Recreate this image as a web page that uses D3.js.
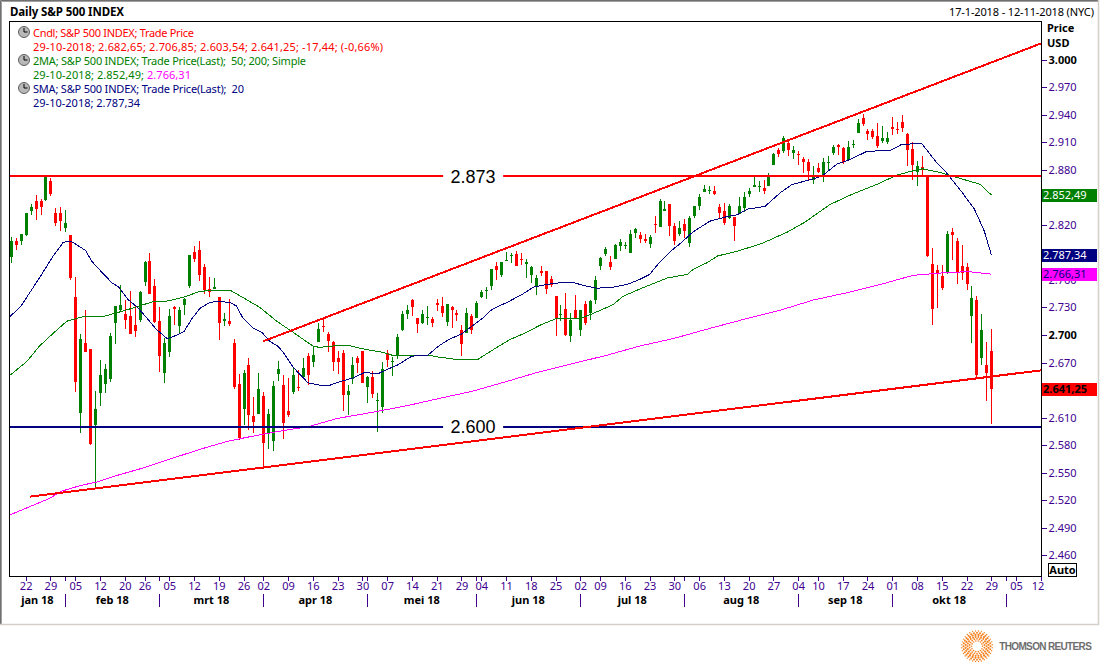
<!DOCTYPE html>
<html><head><meta charset="utf-8">
<style>
html,body{margin:0;padding:0;background:#fff}
svg{display:block}
text{font-family:"Noto Sans",sans-serif;font-size:11px}
</style>
<script src="https://cdn.jsdelivr.net/npm/d3@7/dist/d3.min.js"></script>
</head><body><svg id="c" width="1100" height="665"></svg>
<script>
const dates = ["01-17","01-18","01-19","01-22","01-23","01-24","01-25","01-26","01-29","01-30","01-31","02-01","02-02",
"02-05","02-06","02-07","02-08","02-09","02-12","02-13","02-14","02-15","02-16","02-20","02-21","02-22","02-23","02-26","02-27","02-28","03-01","03-02",
"03-05","03-06","03-07","03-08","03-09","03-12","03-13","03-14","03-15","03-16","03-19","03-20","03-21","03-22","03-23","03-26","03-27","03-28","03-29",
"04-02","04-03","04-04","04-05","04-06","04-09","04-10","04-11","04-12","04-13","04-16","04-17","04-18","04-19","04-20","04-23","04-24","04-25","04-26","04-27","04-30",
"05-01","05-02","05-03","05-04","05-07","05-08","05-09","05-10","05-11","05-14","05-15","05-16","05-17","05-18","05-21","05-22","05-23","05-24","05-25","05-29","05-30","05-31",
"06-01","06-04","06-05","06-06","06-07","06-08","06-11","06-12","06-13","06-14","06-15","06-18","06-19","06-20","06-21","06-22","06-25","06-26","06-27","06-28","06-29",
"07-02","07-03","07-05","07-06","07-09","07-10","07-11","07-12","07-13","07-16","07-17","07-18","07-19","07-20","07-23","07-24","07-25","07-26","07-27","07-30","07-31",
"08-01","08-02","08-03","08-06","08-07","08-08","08-09","08-10","08-13","08-14","08-15","08-16","08-17","08-20","08-21","08-22","08-23","08-24","08-27","08-28","08-29","08-30","08-31",
"09-04","09-05","09-06","09-07","09-10","09-11","09-12","09-13","09-14","09-17","09-18","09-19","09-20","09-21","09-24","09-25","09-26","09-27","09-28",
"10-01","10-02","10-03","10-04","10-05","10-08","10-09","10-10","10-11","10-12","10-15","10-16","10-17","10-18","10-19","10-22","10-23","10-24","10-25","10-26","10-29",
"10-30","10-31","11-01","11-02","11-05","11-06","11-07","11-08","11-09","11-12"];

const opens = [2784.99,2802.60,2802.60,2809.16,2835.05,2845.42,2846.24,2847.48,2867.23,2832.74,2832.41,2816.45,2808.92,
2741.06,2614.78,2690.95,2685.01,2601.78,2636.75,2646.27,2652.01,2713.46,2727.14,2722.99,2720.53,2710.42,2715.80,2757.37,2780.45,2753.78,2715.22,2658.89,
2681.06,2730.18,2710.18,2732.75,2752.91,2790.54,2792.31,2774.06,2750.57,2750.57,2741.38,2715.05,2714.99,2691.36,2646.71,2619.35,2667.57,2611.30,2614.41,
2633.45,2592.17,2584.04,2657.36,2645.82,2617.18,2638.41,2643.89,2653.83,2676.90,2670.10,2692.74,2710.11,2701.16,2692.56,2675.40,2680.80,2634.92,2651.65,2675.47,2682.51,
2642.96,2654.24,2628.08,2621.45,2680.34,2670.26,2678.12,2705.02,2722.70,2738.47,2718.59,2712.62,2719.71,2717.35,2735.39,2731.96,2713.98,2730.94,2723.60,2705.11,2702.43,2720.98,
2718.70,2741.67,2748.46,2753.25,2774.84,2765.84,2780.18,2785.60,2787.94,2783.21,2777.78,2765.79,2752.61,2769.73,2769.28,2760.79,2742.94,2722.12,2728.45,2698.69,2727.13,
2704.95,2733.27,2724.19,2737.68,2775.62,2788.56,2779.82,2783.14,2796.93,2797.36,2789.34,2811.35,2809.37,2804.55,2799.17,2820.68,2817.73,2835.49,2842.35,2819.00,2809.73,
2821.17,2800.48,2829.62,2840.29,2855.92,2856.79,2857.19,2838.90,2835.46,2827.88,2827.95,2831.44,2838.32,2853.93,2861.51,2860.99,2860.29,2862.35,2884.69,2901.45,2900.62,2908.94,2898.37,
2896.96,2891.59,2888.64,2868.26,2881.39,2871.57,2888.29,2898.37,2906.38,2903.83,2890.74,2906.60,2919.73,2936.76,2921.83,2921.75,2916.98,2911.65,2910.03,
2926.29,2923.80,2931.69,2919.35,2902.54,2877.53,2882.51,2873.90,2776.87,2770.54,2763.83,2767.05,2811.67,2802.00,2775.66,2773.94,2721.03,2737.87,2674.88,2667.86,2682.65];

const highs = [2807.04,2805.83,2810.33,2833.03,2842.24,2852.97,2848.56,2872.87,2870.62,2837.75,2839.26,2835.96,2808.92,
2763.39,2701.04,2727.67,2685.27,2638.67,2672.61,2668.84,2702.10,2731.51,2754.42,2737.60,2747.75,2731.26,2747.76,2780.64,2789.15,2761.52,2730.89,2696.25,
2728.09,2732.08,2730.60,2740.45,2786.57,2796.98,2801.90,2777.11,2763.03,2761.85,2741.38,2724.22,2739.14,2695.68,2657.67,2661.36,2674.78,2632.65,2659.07,
2638.30,2619.14,2649.86,2672.08,2656.88,2653.55,2665.45,2661.43,2674.72,2680.26,2686.49,2713.34,2717.49,2702.84,2693.94,2682.86,2683.55,2645.30,2676.48,2677.35,2682.87,
2655.27,2660.87,2637.14,2670.93,2683.35,2676.34,2701.27,2726.11,2732.86,2739.19,2718.59,2727.76,2731.96,2719.50,2739.19,2741.76,2733.33,2731.97,2727.36,2710.67,2729.34,2722.50,
2736.93,2749.16,2752.61,2772.39,2779.90,2779.39,2790.21,2789.80,2791.47,2789.06,2782.81,2774.99,2765.05,2774.86,2769.28,2764.17,2742.94,2732.91,2746.09,2724.34,2743.26,
2727.26,2736.58,2737.83,2764.41,2784.65,2795.58,2785.91,2799.22,2804.53,2801.19,2814.19,2816.76,2812.05,2809.70,2808.61,2829.99,2848.03,2845.57,2843.17,2821.74,2824.46,
2825.83,2829.91,2840.38,2853.29,2863.43,2862.44,2862.48,2842.20,2843.40,2843.11,2827.95,2850.49,2855.63,2859.76,2873.23,2867.54,2868.78,2876.16,2898.25,2903.77,2916.50,2912.46,2906.32,
2900.18,2894.21,2892.05,2883.81,2886.93,2892.52,2894.65,2906.76,2908.30,2904.65,2911.17,2912.36,2934.80,2940.91,2923.79,2923.95,2931.15,2927.22,2920.53,
2937.06,2931.42,2939.86,2919.78,2909.64,2889.45,2894.83,2874.02,2795.14,2775.77,2775.99,2813.46,2816.94,2806.04,2797.77,2778.94,2753.59,2742.59,2722.70,2692.38,2706.85];

const lows = [2778.38,2792.56,2798.08,2808.12,2830.59,2824.81,2830.94,2846.18,2851.48,2818.27,2813.04,2812.70,2759.97,
2638.17,2593.07,2681.33,2580.56,2532.69,2622.45,2637.08,2648.87,2689.82,2725.11,2706.76,2701.29,2697.77,2713.74,2753.78,2744.22,2713.54,2659.65,2647.32,
2675.75,2711.26,2701.74,2721.92,2751.54,2779.26,2758.68,2744.38,2741.47,2749.97,2694.59,2710.05,2709.79,2641.59,2585.89,2601.81,2596.12,2593.06,2614.41,
2553.80,2575.49,2573.61,2649.58,2586.27,2610.79,2635.78,2639.25,2653.83,2645.05,2665.16,2692.05,2703.63,2681.90,2660.61,2657.99,2617.32,2612.67,2647.16,2659.01,2648.04,
2625.41,2631.70,2594.62,2615.32,2664.70,2655.20,2674.14,2704.54,2717.45,2721.13,2701.91,2712.17,2711.36,2709.18,2725.70,2719.88,2709.54,2707.38,2714.99,2676.81,2702.43,2700.68,
2718.70,2740.54,2739.51,2748.46,2760.16,2763.59,2780.17,2778.78,2774.65,2776.52,2761.73,2757.12,2743.19,2763.91,2744.39,2752.68,2698.67,2715.60,2699.38,2691.99,2718.03,
2698.95,2711.16,2716.02,2733.52,2770.73,2786.24,2770.77,2783.14,2791.69,2793.39,2789.24,2805.89,2799.77,2800.01,2795.14,2811.12,2817.73,2835.26,2808.34,2798.11,2808.06,
2805.85,2796.34,2827.37,2835.98,2855.92,2853.09,2851.98,2825.81,2819.88,2826.58,2802.49,2831.44,2833.73,2850.62,2861.32,2856.05,2854.03,2862.35,2884.69,2893.50,2898.40,2895.22,2891.73,
2885.13,2876.92,2867.29,2864.12,2875.94,2866.78,2879.20,2896.39,2895.77,2886.16,2890.43,2903.82,2919.73,2927.11,2912.63,2913.70,2903.28,2909.27,2907.50,
2917.91,2919.37,2921.36,2883.92,2869.29,2862.08,2874.27,2784.86,2710.51,2729.44,2749.03,2766.91,2781.81,2755.18,2760.27,2749.22,2691.43,2651.89,2667.84,2628.16,2603.54];

const closes = [2802.56,2798.03,2810.30,2832.97,2839.13,2837.54,2839.25,2872.87,2853.53,2822.43,2823.81,2821.98,2762.13,
2648.94,2695.14,2681.66,2581.00,2619.55,2656.00,2662.94,2698.63,2731.20,2732.22,2716.26,2701.33,2703.96,2747.30,2779.60,2744.28,2713.83,2677.67,2691.25,
2720.94,2728.12,2726.80,2738.97,2786.57,2783.02,2765.31,2749.48,2747.33,2752.01,2712.92,2716.94,2711.93,2643.69,2588.26,2658.55,2612.62,2605.00,2640.87,
2581.88,2614.45,2644.69,2662.84,2604.47,2613.16,2656.87,2642.19,2663.99,2656.30,2677.84,2706.39,2708.64,2693.13,2670.14,2670.29,2634.56,2639.40,2666.94,2669.91,2648.05,
2654.80,2635.67,2629.73,2663.42,2672.63,2671.92,2697.79,2723.07,2727.72,2730.13,2711.45,2722.46,2720.13,2712.97,2733.01,2724.44,2733.29,2727.76,2721.33,2689.86,2724.01,2705.27,
2734.62,2746.87,2748.80,2772.35,2770.37,2779.03,2782.00,2786.85,2775.63,2782.49,2779.66,2773.75,2762.59,2767.32,2749.76,2754.88,2717.07,2723.06,2699.63,2716.31,2718.37,
2726.71,2713.22,2736.61,2759.82,2784.17,2793.84,2774.02,2798.29,2801.31,2798.43,2809.55,2815.62,2804.49,2801.83,2806.98,2820.40,2846.07,2837.44,2818.82,2802.60,2816.29,
2813.36,2827.22,2840.35,2850.40,2858.45,2857.70,2853.58,2833.28,2821.93,2839.96,2818.37,2840.69,2850.13,2857.05,2862.96,2861.82,2856.98,2874.69,2896.74,2897.52,2914.04,2901.13,2901.52,
2896.72,2888.60,2878.05,2871.68,2877.13,2887.89,2888.92,2904.18,2904.98,2888.80,2904.31,2907.95,2930.75,2929.67,2919.37,2915.56,2905.97,2914.00,2913.98,
2924.59,2923.43,2925.51,2901.61,2885.57,2884.43,2880.34,2785.68,2728.37,2767.13,2750.79,2809.92,2809.21,2768.78,2767.78,2755.88,2740.69,2656.10,2705.57,2658.69,2641.25];

const sma20Days = [-0.2,2,4,6,8.5,10.6,12.1,13.1,15.1,16.4,18.1,20.4,21.8,23.6,25.6,27.4,29.4,31.6,33.6,35,36.6,38.2,40.2,41.8,44.2,45.6,46.8,48.8,50.7,52.3,54,55.3,57,60,62.3,64.3,66.3,69,71.4,74.2,76,78,81,84.2,86.4,88.4,91,93.2,95.2,97.2,100.2,103.2,105.5,108.2,111,113.6,116.4,118.4,121.6,124.4,127,129,131,133,135.7,137.7,141.2,144.7,146.7,148.7,152.3,155.4,157.8,161.4,163.8,166.8,169.4,172.9,177.6,179.9,183.9,185.2,186.9,188.9,192,194.6,196.6,198];
const sma20 = [2720,2731,2747.5,2764,2785.6,2801,2802,2799,2792,2780,2770,2757,2752,2739,2730,2719,2706,2696,2700,2704,2718,2729,2735.5,2736.6,2735.5,2731.5,2719,2708,2703,2693,2687.6,2679,2665,2648,2645.5,2645,2649,2653,2659,2658,2662.6,2667,2677,2678,2688,2695,2701,2710,2718,2728,2735.5,2744,2752,2755,2757,2757,2753,2751,2752,2755,2760.5,2766,2779,2790,2802,2812,2824,2829,2831,2837,2840,2855,2864,2869,2873,2886,2891,2900,2901,2907.5,2908.6,2900,2888,2877,2856,2837,2813,2787.34];

const sma50Days = [-0.2,3.2,5.8,8.8,11.3,14.6,18.6,22.6,25.6,29.1,31.6,34.8,38.2,41.6,44.2,46.8,50.3,53.7,57,61,62.3,65,67.8,71.9,75.2,77,80,84.4,86.4,90.5,94.2,96.8,100.8,104.2,106.8,110.2,115,117.6,121.6,123.6,127,132.5,136.6,137.7,140.7,142.7,147.2,151.8,156.8,160.4,165.4,169.8,174.9,178.9,181.6,184.1,187.6,191.7,195.8,198];
const sma50 = [2656,2671,2688,2703,2715,2720,2720,2726,2731,2737,2737,2741,2747.5,2749,2749,2741,2730,2715,2703,2688,2686.5,2688,2689,2684,2681,2678,2678,2678,2676,2673,2673,2682,2695,2703,2710.5,2718,2718,2723.5,2733,2742,2750,2762,2766,2771,2779,2786,2792,2800,2812,2823,2842,2853,2864,2874,2878,2881,2877,2870.5,2864,2852.49];

const sma200Days = [-0.2,7.8,10.3,14,17.4,21.4,26.6,32.2,38.2,43.6,47.6,53,60.3,65.8,73.2,80,86.6,93.4,100.2,106.8,113.6,120.4,127,133.7,141.7,148.7,155.4,162,168.8,175.6,182.2,189,193.5,198];
const sma200 = [2504,2522,2530,2536,2540,2547,2555,2565,2575.5,2584,2588.5,2594,2600.5,2609,2616,2623,2631,2639,2649.5,2660,2669,2678,2688,2696,2708,2718,2727,2738,2746,2755,2765,2768,2769,2766.31];

const upperTrendDays = [50.9,208], upperTrend = [2693,3017.4];
const lowerTrendDays = [3.9,208], lowerTrend = [2524,2661.5];
const levels = [{v:2873,label:"2.873",color:"#ff0000"},{v:2600,label:"2.600",color:"#000080"}];

const priceTicks = [3000,2970,2940,2910,2880,2850,2820,2790,2760,2730,2700,2670,2640,2610,2580,2550,2520,2490,2460];
const boldPrices = [3000,2700];
const coveredPrices = [2850,2790,2640];
const dayTicks = ["01-22","01-29","02-05","02-12","02-20","02-26","03-05","03-12","03-19","03-26","04-02","04-09","04-16","04-23","04-30","05-07","05-14","05-21","05-29","06-04","06-11","06-18","06-25","07-02","07-09","07-16","07-23","07-30","08-06","08-13","08-20","08-27","09-04","09-10","09-17","09-24","10-01","10-08","10-15","10-22","10-29","11-05","11-12"];
const monthStarts = ["02-01","03-01","04-02","05-01","06-01","07-02","08-01","09-04","10-01","11-01"];
const monthNames = ["jan 18","feb 18","mrt 18","apr 18","mei 18","jun 18","jul 18","aug 18","sep 18","okt 18"];

const tags = [
 {v:2852.49,t:"2.852,49",bg:"#008000",fg:"#ffffff"},
 {v:2787.34,t:"2.787,34",bg:"#000080",fg:"#ffffff"},
 {v:2766.31,t:"2.766,31",bg:"#ff00ff",fg:"#000080"},
 {v:2641.25,t:"2.641,25",bg:"#ff0000",fg:"#000000",b:1}
];
const legendRows = [
 {w:161,s:[{t:"Cndl; S&P 500 INDEX; Trade Price",c:"#ff0000"}]},
 {w:350,s:[{t:"29-10-2018; 2.682,65; 2.706,85; 2.603,54; 2.641,25; -17,44; (-0,66%)",c:"#ff0000"}]},
 {w:273,s:[{t:"2MA; S&P 500 INDEX; Trade Price(Last);  50; 200; Simple",c:"#008000"}]},
 {w:158,s:[{t:"29-10-2018; 2.852,49; ",c:"#008000"},{t:"2.766,31",c:"#ff00ff"}]},
 {w:211,s:[{t:"SMA; S&P 500 INDEX; Trade Price(Last);  20",c:"#000080"}]},
 {w:107,s:[{t:"29-10-2018; 2.787,34",c:"#000080"}]}
];

const L=9.5,R=1041.5,T=21.5,B=576.5;
const purple="#400090";
const x=d3.scaleLinear().domain([0,198]).range([10.8,991.3]);
const y=d3.scaleLinear().domain([3000,2460]).range([59.5,555.4]);
const dayIdx=d=>dates.indexOf(d);
const fmt=v=>coveredPrices.includes(v)?"":d3.format(",")(v).replace(",",".");
const svg=d3.select("#c");

// window chrome
svg.append("path").attr("d","M0.5,624V0.5H1099").attr("fill","none").attr("stroke","#707070").attr("stroke-width",1);
svg.append("path").attr("d","M1.5,624V1.5H1098").attr("fill","none").attr("stroke","#a0a0a0").attr("stroke-width",1);
svg.append("path").attr("d","M0,624.5H1098.5V0").attr("fill","none").attr("stroke","#d4d0c8").attr("stroke-width",1.5);

svg.append("text").attr("x",10).attr("y",16).attr("font-weight","bold").attr("textLength",114).style("font-size","11.5px").attr("fill","#000").text("Daily S&P 500 INDEX");
svg.append("text").attr("x",949).attr("y",16).attr("textLength",145).attr("fill","#000").text("17-1-2018 - 12-11-2018 (NYC)");

svg.append("defs").append("clipPath").attr("id","plot").append("rect").attr("x",L).attr("y",T).attr("width",R-L).attr("height",B-T);
const plot=svg.append("g").attr("clip-path","url(#plot)");

// candles
const candleIdx=d3.range(closes.length);
const gc=plot.append("g").attr("shape-rendering","crispEdges");
const col=i=>closes[i]>=opens[i]?"#008000":"#ff0000";
gc.selectAll("rect.w").data(candleIdx).join("rect").attr("class","w")
 .attr("x",i=>Math.round(x(i))).attr("width",1)
 .attr("y",i=>Math.round(y(highs[i]))).attr("height",i=>Math.max(1,Math.round(y(lows[i]))-Math.round(y(highs[i]))))
 .attr("fill",col);
gc.selectAll("rect.b").data(candleIdx).join("rect").attr("class","b")
 .attr("x",i=>Math.round(x(i))-1).attr("width",3)
 .attr("y",i=>Math.round(y(Math.max(opens[i],closes[i]))))
 .attr("height",i=>Math.max(1,Math.round(y(Math.min(opens[i],closes[i])))-Math.round(y(Math.max(opens[i],closes[i])))))
 .attr("fill",col);

// averages
const line=(days,vals,color,w)=>plot.append("path")
 .attr("d",d3.line().x((d,i)=>x(days[i])).y(d=>y(d))(vals))
 .attr("fill","none").attr("stroke",color).attr("stroke-width",w).attr("shape-rendering","crispEdges");
line(sma200Days,sma200,"#ff00ff",1);
line(sma50Days,sma50,"#008000",1);
line(sma20Days,sma20,"#000080",1);

// levels and trend lines
levels.forEach(l=>{
 plot.append("line").attr("x1",L).attr("x2",R).attr("y1",y(l.v)).attr("y2",y(l.v))
  .attr("stroke",l.color).attr("stroke-width",2).attr("shape-rendering","crispEdges");
});
line(upperTrendDays,upperTrend,"#ff0000",2);
line(lowerTrendDays,lowerTrend,"#ff0000",2);
levels.forEach(l=>{
 plot.append("rect").attr("x",x(87.3)).attr("width",60).attr("y",y(l.v)-3).attr("height",6).attr("fill","#fff");
 plot.append("text").attr("x",x(87.3)+30).attr("y",y(l.v)+6.5).attr("text-anchor","middle")
  .style("font-family","'Liberation Sans',sans-serif").style("font-size","18px").attr("fill","#000").text(l.label);
});

// frame
svg.append("rect").attr("x",L).attr("y",T).attr("width",R-L).attr("height",B-T).attr("fill","none").attr("stroke","#000").attr("stroke-width",1);

// price axis
const ya=svg.append("g").attr("transform",`translate(${R},0)`)
 .call(d3.axisRight(y).tickValues(priceTicks).tickSize(5).tickPadding(2).tickFormat(fmt));
ya.select(".domain").remove();
ya.selectAll("line").attr("stroke",purple).attr("shape-rendering","crispEdges");
ya.selectAll("text").attr("fill",d=>boldPrices.includes(d)?"#000":purple).attr("font-weight",d=>boldPrices.includes(d)?"bold":"normal").style("font-size","11px").style("font-family",'"Noto Sans",sans-serif');

svg.append("text").attr("x",1047).attr("y",32).attr("font-weight","bold").attr("fill","#000").text("Price");
svg.append("text").attr("x",1047).attr("y",47).attr("font-weight","bold").attr("fill","#000").text("USD");

// time axis
const xa=svg.append("g").attr("transform",`translate(0,${B})`)
 .call(d3.axisBottom(x).tickValues(dayTicks.map(dayIdx)).tickSize(4).tickPadding(2).tickFormat(i=>dates[i].slice(3)));
xa.select(".domain").remove();
xa.selectAll("line").attr("stroke",purple).attr("shape-rendering","crispEdges");
xa.selectAll("text").attr("fill",purple).style("font-size","11px").style("font-family",'"Noto Sans",sans-serif');
xa.selectAll("g.tick").filter(i=>dates[i]==="11-12").select("text").attr("text-anchor","end").attr("dx",3);

const seps=monthStarts.map(dayIdx);
const mg=svg.append("g").attr("shape-rendering","crispEdges");
seps.forEach(i=>{
 mg.append("line").attr("x1",Math.round(x(i))+.5).attr("x2",Math.round(x(i))+.5).attr("y1",B).attr("y2",B+4).attr("stroke",purple);
 mg.append("line").attr("x1",Math.round(x(i))+.5).attr("x2",Math.round(x(i))+.5).attr("y1",594).attr("y2",607).attr("stroke",purple);
});
const edges=[x.invert(L),...seps];
monthNames.forEach((m,i)=>{
 svg.append("text").attr("x",(x(edges[i])+x(edges[i+1]))/2).attr("y",604).attr("text-anchor","middle")
  .attr("font-weight","bold").attr("fill","#000").text(m);
});

// price tags
tags.forEach(t=>{
 svg.append("rect").attr("x",R+.5).attr("width",55).attr("y",Math.round(y(t.v))-6.5).attr("height",13).attr("fill",t.bg).attr("shape-rendering","crispEdges");
 svg.append("text").attr("x",1043).attr("y",Math.round(y(t.v))+4).attr("fill",t.fg).attr("font-weight",t.b?"bold":"normal").text(t.t);
});

// auto box
svg.append("rect").attr("x",1048.5).attr("y",563.5).attr("width",28).attr("height",13).attr("fill","#fff").attr("stroke","#000");
svg.append("text").attr("x",1062.5).attr("y",574).attr("text-anchor","middle").attr("font-weight","bold").attr("fill","#000").text("Auto");

// legend
legendRows.forEach((row,i)=>{
 const tx=svg.append("text").attr("x",33).attr("y",37+i*14).attr("textLength",row.w);
 row.s.forEach(s=>tx.append("tspan").attr("fill",s.c).style("white-space","pre").text(s.t));
 if(i%2===0){
  const g=svg.append("g").attr("transform",`translate(24,${33+i*14-1})`);
  g.append("circle").attr("r",5.5).attr("fill","#b8b8b8").attr("stroke","#606060");
  g.append("path").attr("d","M0,-4V0H3.5").attr("fill","none").attr("stroke","#000").attr("stroke-width",1);
 }
});

// logo
const logo=svg.append("g").attr("transform","translate(977,646.3)");
[[5.5,14,.8],[7.5,18,.9],[9.5,22,1],[11.5,24,1.1],[13.5,28,1],[15.3,32,.7]].forEach(([r,n,s],k)=>{
 d3.range(n).forEach(j=>{
  const a=2*Math.PI*(j+(k%2)*.5)/n;
  logo.append("circle").attr("cx",r*Math.cos(a)).attr("cy",r*Math.sin(a)).attr("r",s).attr("fill","#f58220");
 });
});
svg.append("text").attr("x",999.3).attr("y",650).attr("textLength",92.5).attr("font-weight","bold").attr("fill","#6e6e6e").style("font-size","10px").style("font-family","'Liberation Sans',sans-serif").text("THOMSON REUTERS");
</script></body></html>
